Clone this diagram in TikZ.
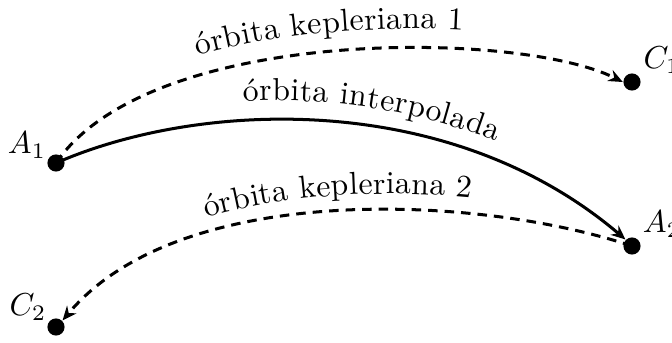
\documentclass[tikz,border=0pt]{standalone}
\usepackage{fontspec}
\usetikzlibrary{decorations.text,arrows.meta}
\begin{document}
\begin{tikzpicture}[x=0.315pt,y=-0.315pt,
  orbit/.style={line width=0.95pt},
  dashorbit/.style={orbit,dash pattern=on 3pt off 2.2pt},
  tip/.style={-{Stealth[length=4.5pt,width=3.8pt]}},
  dot/.style={circle,fill=black,inner sep=0pt,minimum size=5.4pt},
  lab/.style={inner sep=0pt}]
\useasboundingbox (0,0) rectangle (672,342);
\node[dot] (A1) at (56,163) {};
\node[dot] (C1) at (632,82) {};
\node[dot] (A2) at (632,246) {};
\node[dot] (C2) at (56,327) {};
\node[lab] (lA1) at (27,145) {$A_1$};
\node[lab] (lC1) at (662,60) {$C_1$};
\node[lab] (lA2) at (662,224) {$A_2$};
\node[lab] (lC2) at (28,307) {$C_2$};
% orbits
\draw[dashorbit,tip] (A1.center) .. controls (150,25) and (520,30) .. (C1.west);
\draw[orbit,tip] (A1.center) .. controls (200,100) and (450,90) .. (A2.north west);
\draw[dashorbit,tip] (A2.center) .. controls (480,195) and (180,180) .. (C2.north east);
% labels along paths
\path[decorate,decoration={text along path,raise=6pt,
  text align={left indent=55pt},text={órbita kepleriana 1}}]
  (56,163) .. controls (150,25) and (520,30) .. (628,80);
\path[decorate,decoration={text along path,raise=6pt,
  text align={left indent=61pt},text={órbita interpolada}}]
  (56,163) .. controls (200,100) and (450,90) .. (628,243);
\path[decorate,decoration={text along path,raise=5pt,
  text align={left indent=56pt},text={órbita kepleriana 2}}]
  (60,323) .. controls (180,180) and (480,195) .. (632,246);
\end{tikzpicture}
\end{document}
